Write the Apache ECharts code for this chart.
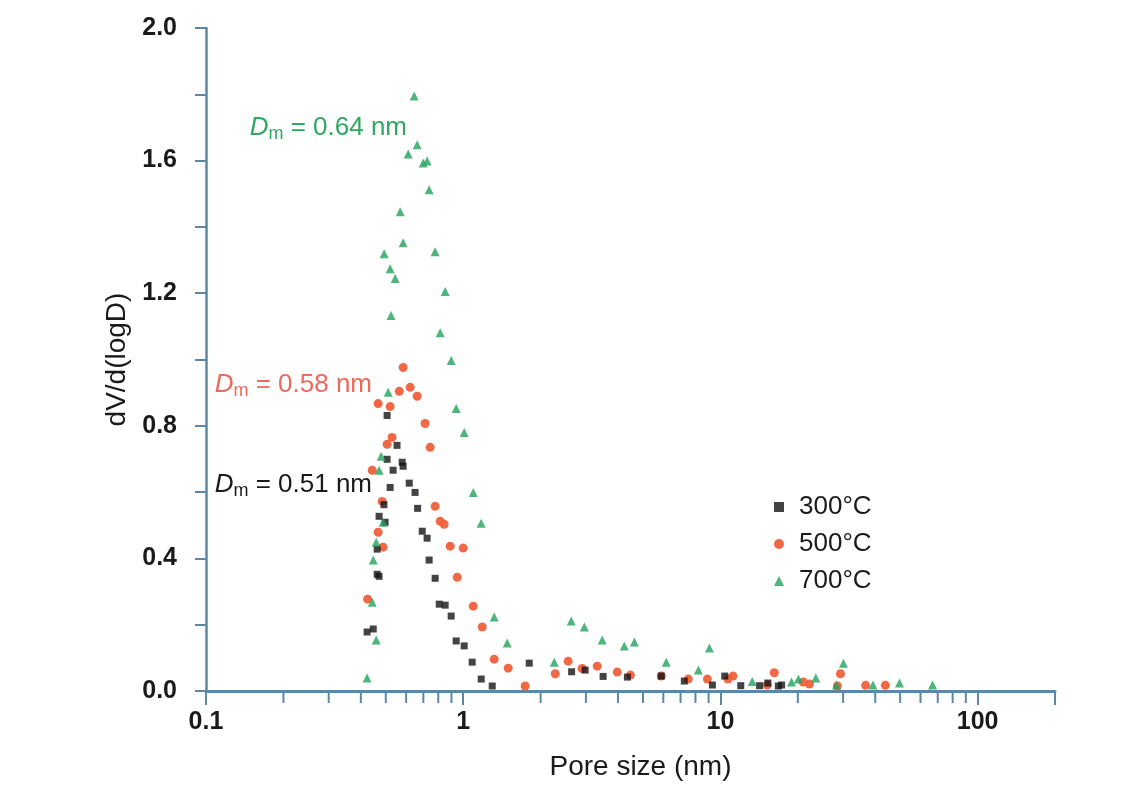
<!DOCTYPE html>
<html>
<head>
<meta charset="utf-8">
<script src="https://cdn.jsdelivr.net/npm/echarts@6/dist/echarts.min.js"></script>
<style>
html,body{margin:0;padding:0;background:#fff;}
#chart{width:1138px;height:786px;}
</style>
</head>
<body>
<div id="chart"></div>
<script>
// ---- data (pore size nm, dV/d(logD)) ----
const seriesNames = ['300°C', '500°C', '700°C'];
const data300 = [
  [0.423,0.178],[0.447,0.187],[0.463,0.352],[0.471,0.346],[0.463,0.428],[0.471,0.527],
  [0.492,0.562],[0.497,0.509],[0.506,0.831],[0.553,0.741],[0.506,0.699],[0.579,0.690],
  [0.584,0.678],[0.534,0.666],[0.617,0.627],[0.520,0.614],[0.650,0.599],[0.665,0.551],
  [0.693,0.482],[0.724,0.461],[0.737,0.395],[0.778,0.340],[0.807,0.262],[0.851,0.259],
  [0.898,0.226],[0.939,0.151],[1.009,0.136],[1.084,0.087],[1.175,0.036],[1.297,0.015],
  [1.806,0.084],[2.64,0.058],[2.98,0.063],[3.50,0.044],[4.35,0.042],[5.89,0.045],
  [7.24,0.030],[9.31,0.018],[10.4,0.045],[12.0,0.016],[14.2,0.016],[15.3,0.024],
  [16.8,0.015],[17.3,0.018]
];
const data500 = [
  [0.425,0.277],[0.443,0.666],[0.467,0.867],[0.467,0.479],[0.484,0.572],[0.488,0.434],
  [0.506,0.744],[0.520,0.858],[0.529,0.765],[0.564,0.904],[0.584,0.976],[0.622,0.916],
  [0.662,0.889],[0.711,0.807],[0.744,0.735],[0.778,0.557],[0.814,0.512],[0.843,0.503],
  [0.890,0.437],[1.000,0.431],[0.948,0.343],[1.094,0.256],[1.186,0.193],[1.320,0.096],
  [1.496,0.069],[1.742,0.015],[2.28,0.052],[2.56,0.090],[2.90,0.068],[3.32,0.075],
  [3.97,0.057],[4.47,0.048],[5.89,0.045],[7.50,0.036],[8.90,0.036],[10.7,0.036],
  [11.2,0.045],[15.2,0.018],[16.2,0.055],[21.0,0.027],[22.2,0.021],[28.5,0.015],
  [29.3,0.052],[36.7,0.017],[43.8,0.017]
];
const data700 = [
  [0.423,0.039],[0.443,0.268],[0.459,0.154],[0.447,0.395],[0.459,0.449],[0.471,0.666],
  [0.480,0.708],[0.488,0.509],[0.511,0.901],[0.493,1.319],[0.520,1.274],[0.524,1.133],
  [0.544,1.244],[0.569,1.446],[0.584,1.352],[0.611,1.620],[0.645,1.795],[0.662,1.648],
  [0.699,1.593],[0.724,1.599],[0.737,1.512],[0.778,1.325],[0.814,1.081],[0.851,1.205],
  [0.898,0.997],[0.939,0.852],[1.009,0.780],[1.094,0.599],[1.175,0.506],[1.320,0.223],
  [1.483,0.145],[2.26,0.087],[2.63,0.211],[2.96,0.193],[3.47,0.154],[4.23,0.136],
  [4.63,0.148],[6.16,0.087],[8.21,0.063],[9.06,0.130],[13.3,0.029],[18.9,0.027],
  [20.1,0.036],[23.5,0.039],[28.3,0.018],[30.1,0.084],[39.2,0.018],[49.7,0.024],
  [66.8,0.018]
];
const annotations = [
  {text: ' = 0.64 nm', color: '#2fa860'},
  {text: ' = 0.58 nm', color: '#f0675c'},
  {text: ' = 0.51 nm', color: '#1a1a1a'}
];
const xMin = 0.1, xMax = 200;
const yMin = 0, yMax = 2.0, yStep = 0.2;

// minor log ticks (2..9 in each decade)
const minorTicks = [];
[0.1, 1, 10].forEach(d => { for (let k = 2; k <= 9; k++) minorTicks.push([+(k * d).toPrecision(3), 0]); });

const axisColor = '#5d87a2';
const FONT = '"Liberation Sans", Arial, Helvetica, sans-serif';
const colors = {black: '#141414', red: '#f0603c', green: '#22a35c'};

const chart = echarts.init(document.getElementById('chart'), null, {renderer: 'canvas'});

function annot(a, x, y) {
  return {
    type: 'text', x: x, y: y, z: 100,
    style: {
      text: '{d|D}{s|m}{t|' + a.text + '}',
      align: 'right', textAlign: 'right', verticalAlign: 'middle', textVerticalAlign: 'middle',
      fill: a.color,
      rich: {
        d: {fontFamily: FONT, fontSize: 26, fontStyle: 'italic', fill: a.color, lineHeight: 30, verticalAlign: 'middle'},
        s: {fontFamily: FONT, fontSize: 18, fill: a.color, lineHeight: 30, verticalAlign: 'bottom'},
        t: {fontFamily: FONT, fontSize: 26, fill: a.color, lineHeight: 30, verticalAlign: 'middle'}
      }
    }
  };
}

const option = {
  backgroundColor: '#ffffff',
  animation: false,
  textStyle: {fontFamily: FONT},
  grid: {left: 206, right: 83, top: 28, bottom: 94, containLabel: false},
  legend: {
    orient: 'vertical', left: 769, top: 489,
    itemWidth: 10, itemHeight: 10, itemGap: 11,
    data: [
      {name: seriesNames[0], icon: 'rect'},
      {name: seriesNames[1], icon: 'circle'},
      {name: seriesNames[2], icon: 'triangle'}
    ],
    textStyle: {fontSize: 26, color: '#1a1a1a', fontFamily: FONT, lineHeight: 26, padding: [0, 0, 0, 10]}
  },
  xAxis: {
    type: 'log', logBase: 10, min: xMin, max: xMax,
    name: 'Pore size (nm)', nameLocation: 'middle', nameGap: 62,
    nameTextStyle: {fontSize: 28, color: '#1a1a1a', fontFamily: FONT, padding: [0, 0, 0, 20]},
    axisLine: {show: true, lineStyle: {color: axisColor, width: 3}},
    axisTick: {show: true, inside: false, length: 14, lineStyle: {color: axisColor, width: 2}},
    axisLabel: {
      margin: 19, fontSize: 25, fontWeight: 'bold', color: '#1a1a1a', fontFamily: FONT,
      showMinLabel: true, showMaxLabel: true,
      formatter: function (v) {
        const l = Math.log10(v);
        return Math.abs(l - Math.round(l)) < 1e-6 ? String(Number(v.toPrecision(3))) : '';
      }
    },
    splitLine: {show: false}
  },
  yAxis: {
    type: 'value', min: yMin, max: yMax, interval: yStep,
    name: 'dV/d(logD)', nameLocation: 'middle', nameGap: 74,
    nameTextStyle: {fontSize: 28, color: '#1a1a1a', fontFamily: FONT},
    axisLine: {show: true, lineStyle: {color: axisColor, width: 2.5}},
    axisTick: {show: true, inside: false, length: 11, lineStyle: {color: axisColor, width: 2}},
    axisLabel: {
      margin: 29, fontSize: 25, fontWeight: 'bold', color: '#1a1a1a', fontFamily: FONT,
      formatter: function (v) {
        return Math.round(v * 10) % 4 === 0 ? v.toFixed(1) : '';
      }
    },
    splitLine: {show: false}
  },
  graphic: [
    annot(annotations[0], 407, 128),
    annot(annotations[1], 372, 385),
    annot(annotations[2], 372, 485)
  ],
  series: [
    {
      type: 'custom', name: 'minorTicks', silent: true, z: 1, clip: false,
      data: minorTicks,
      renderItem: function (params, api) {
        const p = api.coord([api.value(0), 0]);
        return {type: 'line', shape: {x1: p[0], y1: p[1], x2: p[0], y2: p[1] + 12},
                style: {stroke: axisColor, lineWidth: 2}};
      }
    },
    {name: seriesNames[1], type: 'scatter', data: data500, symbol: 'circle', symbolSize: 9,
     itemStyle: {color: colors.red, opacity: 0.95}, z: 3},
    {name: seriesNames[0], type: 'scatter', data: data300, symbol: 'rect', symbolSize: 7,
     itemStyle: {color: colors.black}, z: 4},
    {name: seriesNames[2], type: 'scatter', data: data700, symbol: 'triangle', symbolSize: 9,
     itemStyle: {color: colors.green}, z: 5}
  ]
};
chart.setOption(option);
</script>
</body>
</html>
